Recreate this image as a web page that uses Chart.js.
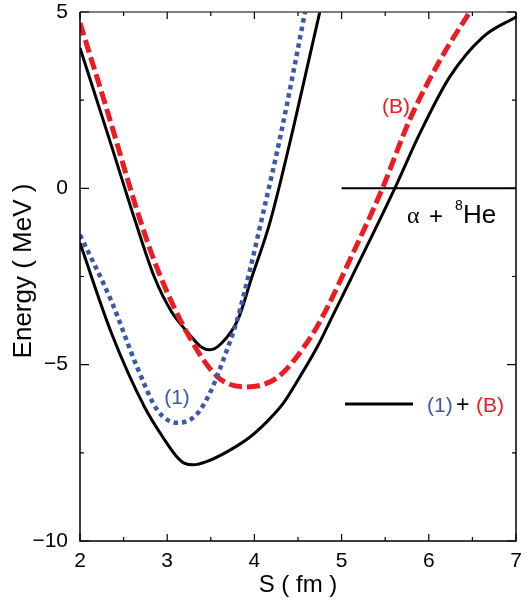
<!DOCTYPE html>
<html>
<head>
<meta charset="utf-8">
<script src="https://cdn.jsdelivr.net/npm/chart.js@4.4.1/dist/chart.umd.min.js"></script>
<style>
  html, body { margin: 0; padding: 0; background: #fff; }
  canvas { display: block; }
</style>
</head>
<body>
<canvas id="chart" width="531" height="605"></canvas>
<script>
// curve (1) - blue dotted
const oneX = [2.0, 2.36, 2.66, 2.89, 3.12, 3.33, 3.50, 3.66, 3.80, 3.95, 4.10, 4.30, 4.58, 4.64];
const oneY = [-1.32, -3.2, -5.1, -6.3, -6.65, -6.43, -5.75, -4.75, -3.75, -2.3, -0.7, 1.5, 5.0, 5.8];

// curve (B) - red dashed
const bX = [2.0, 2.3, 2.69, 2.89, 3.24, 3.58, 3.90, 4.27, 4.65, 4.84, 5.10, 5.46, 5.78, 6.13, 6.47, 6.55];
const bY = [4.69, 2.3, -0.9, -2.3, -4.15, -5.35, -5.63, -5.35, -4.2, -3.36, -2.0, -0.05, 1.94, 3.64, 5.0, 5.3];

// (1)+(B) upper solution - black
const upX = [2.0, 2.35, 2.63, 2.85, 3.05, 3.24, 3.39, 3.49, 3.62, 3.81, 3.96, 4.18, 4.45, 4.75, 4.8];
const upY = [3.98, 1.29, -0.9, -2.5, -3.5, -4.1, -4.5, -4.58, -4.4, -3.73, -2.6, -0.95, 1.75, 5.0, 5.5];

// (1)+(B) lower solution - black
const lowX = [2.0, 2.36, 2.74, 2.97, 3.1, 3.2, 3.3, 3.45, 3.7, 3.95, 4.15, 4.33, 4.52, 4.72, 4.9, 5.1, 5.61, 5.9, 6.24, 6.62, 7.0];
const lowY = [-1.55, -4.1, -6.2, -7.13, -7.58, -7.8, -7.84, -7.75, -7.45, -7.05, -6.6, -6.1, -5.35, -4.5, -3.6, -2.6, 0.0, 1.57, 3.16, 4.29, 4.86];

// alpha + 8He threshold
const threshX = [5, 7];
const threshY = [0, 0];

const xTicks = [2, 3, 4, 5, 6, 7];
const yTicks = [-10, -5, 0, 5];

const FONT = "'Liberation Sans', Arial, Helvetica, sans-serif";
const RED = '#ec1c24';
const BLUE = '#3d58a8';

function pts(xs, ys) {
  return xs.map((x, i) => ({ x: x, y: ys[i] }));
}

function curve(xs, ys, color, width, dash) {
  return {
    data: pts(xs, ys),
    showLine: true,
    borderColor: color,
    borderWidth: width,
    borderDash: dash,
    borderCapStyle: 'butt',
    cubicInterpolationMode: 'monotone',
    pointRadius: 0,
    clip: 0
  };
}

// frame, inward ticks and all the labels
const decor = {
  id: 'decor',
  afterDraw(chart) {
    const c = chart.ctx;
    const a = chart.chartArea;
    const sx = chart.scales.x, sy = chart.scales.y;
    c.save();

    c.strokeStyle = '#000';
    c.lineWidth = 1.5;
    c.beginPath();
    c.moveTo(a.left, a.top); c.lineTo(a.left, a.bottom); c.lineTo(a.right, a.bottom); c.lineTo(a.right, a.top);
    c.stroke();
    c.strokeStyle = '#555';
    c.beginPath();
    c.moveTo(a.left, a.top); c.lineTo(a.right, a.top);
    c.stroke();

    c.strokeStyle = '#000';
    c.lineWidth = 1.2;
    c.beginPath();
    for (let v = 2; v <= 7.001; v += 0.5) {
      const px = sx.getPixelForValue(v);
      const len = Number.isInteger(v) ? 7 : 4;
      c.moveTo(px, a.bottom); c.lineTo(px, a.bottom - len);
      c.moveTo(px, a.top); c.lineTo(px, a.top + len);
    }
    for (let v = -10; v <= 5.001; v += 2.5) {
      const py = sy.getPixelForValue(v);
      const len = Number.isInteger(v / 5) ? 9 : 4;
      c.moveTo(a.left, py); c.lineTo(a.left + len, py);
      c.moveTo(a.right, py); c.lineTo(a.right - len, py);
    }
    c.stroke();

    // axis titles
    c.fillStyle = '#000';
    c.textAlign = 'center';
    c.textBaseline = 'middle';
    c.font = '24px ' + FONT;
    c.fillText('S ( fm )', (a.left + a.right) / 2, 585);
    c.save();
    c.translate(24, 271);
    c.rotate(-Math.PI / 2);
    c.font = '26px ' + FONT;
    c.fillText('Energy ( MeV )', 0, 0);
    c.restore();

    // curve labels
    c.font = '21px ' + FONT;
    c.fillStyle = BLUE;
    c.fillText('(1)', 177, 398);
    c.fillStyle = RED;
    c.fillText('(B)', 396, 107);

    // threshold label
    c.textAlign = 'left';
    c.textBaseline = 'alphabetic';
    c.fillStyle = '#000';
    c.font = '24px "Liberation Serif", serif';
    c.fillText('\u03b1', 407, 223);
    c.font = '24px ' + FONT;
    c.fillText('+', 429, 224);
    c.font = '14px ' + FONT;
    c.fillText('8', 455, 210);
    c.font = '26px ' + FONT;
    c.fillText('He', 463, 223);

    // legend
    c.strokeStyle = '#000';
    c.lineWidth = 3;
    c.beginPath();
    c.moveTo(345, 404); c.lineTo(413, 404);
    c.stroke();
    c.font = '21px ' + FONT;
    c.fillStyle = BLUE;
    c.fillText('(1)', 427, 412);
    c.fillStyle = '#000';
    c.font = '23px ' + FONT;
    c.fillText('+', 456, 412);
    c.font = '21px ' + FONT;
    c.fillStyle = RED;
    c.fillText('(B)', 476, 412);

    c.restore();
  }
};

new Chart(document.getElementById('chart'), {
  type: 'scatter',
  data: {
    datasets: [
      curve(threshX, threshY, '#000', 2, []),
      curve(oneX, oneY, BLUE, 4.5, [4.5, 4]),
      curve(bX, bY, RED, 5, [13, 5]),
      curve(upX, upY, '#000', 3, []),
      curve(lowX, lowY, '#000', 3, [])
    ]
  },
  options: {
    responsive: false,
    animation: false,
    layout: { padding: { top: 12, right: 15, left: 0, bottom: 0 } },
    plugins: { legend: { display: false }, tooltip: { enabled: false } },
    scales: {
      x: {
        type: 'linear', min: 2, max: 7,
        afterBuildTicks: s => { s.ticks = xTicks.map(v => ({ value: v })); },
        ticks: { color: '#000', font: { family: FONT, size: 21 }, padding: 8, maxRotation: 0 },
        grid: { display: false, drawTicks: false },
        border: { display: false },
        afterFit: s => { s.height = 64; s.paddingLeft = 0; s.paddingRight = 0; }
      },
      y: {
        type: 'linear', min: -10, max: 5,
        afterBuildTicks: s => { s.ticks = yTicks.map(v => ({ value: v })); },
        ticks: {
          color: '#000', font: { family: FONT, size: 21 }, padding: 12,
          callback: v => String(v).replace('-', '\u2212')
        },
        grid: { display: false, drawTicks: false },
        border: { display: false },
        afterFit: s => { s.width = 80; s.paddingTop = 0; s.paddingBottom = 0; }
      }
    }
  },
  plugins: [decor]
});
</script>
</body>
</html>
